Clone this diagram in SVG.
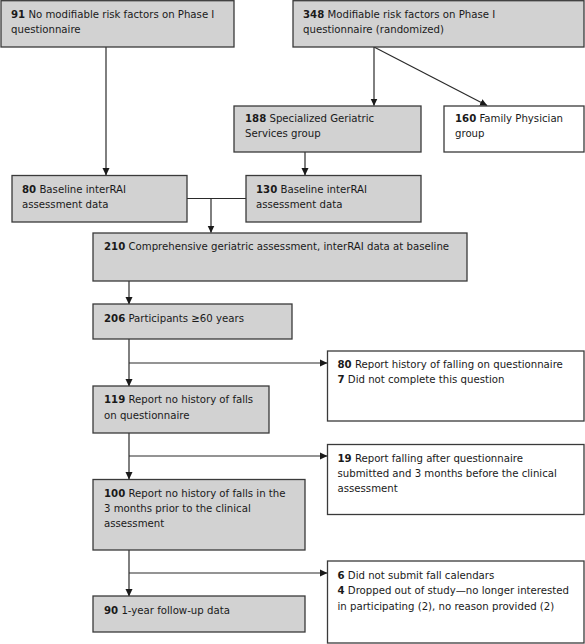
<svg xmlns="http://www.w3.org/2000/svg" width="585" height="644" viewBox="0 0 585 644">
<style>
.g rect{fill:#d2d2d2;stroke:#3a3a3a;stroke-width:1.3}
.w rect{fill:#ffffff;stroke:#3a3a3a;stroke-width:1.3}
text{font-family:"DejaVu Sans Condensed","Liberation Sans Narrow",sans-serif;font-size:11.3px;fill:#1a1a1a}
.b{font-weight:bold}
.c{stroke:#2a2a2a;stroke-width:1.2;fill:none}
</style>
<defs>
<marker id="ah" markerWidth="8" markerHeight="8" refX="7" refY="4" orient="auto" markerUnits="userSpaceOnUse">
<path d="M0,0.5 L7.5,4 L0,7.5 Z" fill="#1a1a1a"/>
</marker>
</defs>
<rect width="585" height="644" fill="#ffffff"/>
<g id="connectors">
<path class="c" d="M106,47 V175" marker-end="url(#ah)"/>
<path class="c" d="M374,47 V105.5" marker-end="url(#ah)"/>
<path class="c" d="M374,47 L487,105.5" marker-end="url(#ah)"/>
<path class="c" d="M305,152 V175" marker-end="url(#ah)"/>
<path class="c" d="M187,198.5 H246"/>
<path class="c" d="M211,198.5 V232.5" marker-end="url(#ah)"/>
<path class="c" d="M129,281 V304" marker-end="url(#ah)"/>
<path class="c" d="M129,339 V386" marker-end="url(#ah)"/>
<path class="c" d="M129,363 H327" marker-end="url(#ah)"/>
<path class="c" d="M129,433 V479" marker-end="url(#ah)"/>
<path class="c" d="M129,456 H327" marker-end="url(#ah)"/>
<path class="c" d="M129,550 V596" marker-end="url(#ah)"/>
<path class="c" d="M129,573 H327" marker-end="url(#ah)"/>
</g>
<g id="n91" class="g"><rect x="1" y="0.7" width="233" height="46.3"/>
<text x="11" y="18"><tspan class="b">91</tspan> No modifiable risk factors on Phase I</text>
<text x="11" y="33">questionnaire</text></g>
<g id="n348" class="g"><rect x="293" y="0.7" width="291" height="46.3"/>
<text x="303" y="18"><tspan class="b">348</tspan> Modifiable risk factors on Phase I</text>
<text x="303" y="33">questionnaire (randomized)</text></g>
<g id="n188" class="g"><rect x="234" y="106" width="187" height="46"/>
<text x="245" y="122"><tspan class="b">188</tspan> Specialized Geriatric</text>
<text x="245" y="137">Services group</text></g>
<g id="n160" class="w"><rect x="444" y="106" width="140" height="46"/>
<text x="455" y="122"><tspan class="b">160</tspan> Family Physician</text>
<text x="455" y="137">group</text></g>
<g id="n80a" class="g"><rect x="12" y="175.5" width="175" height="46.5"/>
<text x="22" y="193"><tspan class="b">80</tspan> Baseline interRAI</text>
<text x="22" y="208">assessment data</text></g>
<g id="n130" class="g"><rect x="246" y="175.5" width="175" height="46.5"/>
<text x="256" y="193"><tspan class="b">130</tspan> Baseline interRAI</text>
<text x="256" y="208">assessment data</text></g>
<g id="n210" class="g"><rect x="93" y="233" width="374" height="48"/>
<text x="104" y="250"><tspan class="b">210</tspan> Comprehensive geriatric assessment, interRAI data at baseline</text></g>
<g id="n206" class="g"><rect x="93" y="304" width="199" height="35"/>
<text x="104" y="322"><tspan class="b">206</tspan> Participants ≥60 years</text></g>
<g id="n80b" class="w"><rect x="327.5" y="351" width="256.5" height="70"/>
<text x="337.5" y="368"><tspan class="b">80</tspan> Report history of falling on questionnaire</text>
<text x="337.5" y="383"><tspan class="b">7</tspan> Did not complete this question</text></g>
<g id="n119" class="g"><rect x="93" y="386" width="176" height="47"/>
<text x="104" y="403"><tspan class="b">119</tspan> Report no history of falls</text>
<text x="104" y="419">on questionnaire</text></g>
<g id="n19" class="w"><rect x="327.5" y="444.5" width="256.5" height="70"/>
<text x="337.5" y="462"><tspan class="b">19</tspan> Report falling after questionnaire</text>
<text x="337.5" y="477">submitted and 3 months before the clinical</text>
<text x="337.5" y="492">assessment</text></g>
<g id="n100" class="g"><rect x="93" y="479.5" width="212" height="70.5"/>
<text x="104" y="497"><tspan class="b">100</tspan> Report no history of falls in the</text>
<text x="104" y="512">3 months prior to the clinical</text>
<text x="104" y="527">assessment</text></g>
<g id="n6" class="w"><rect x="327.5" y="561" width="256.5" height="82"/>
<text x="337.5" y="579"><tspan class="b">6</tspan> Did not submit fall calendars</text>
<text x="337.5" y="594"><tspan class="b">4</tspan> Dropped out of study—no longer interested</text>
<text x="337.5" y="610">in participating (2), no reason provided (2)</text></g>
<g id="n90" class="g"><rect x="93" y="596" width="212" height="36"/>
<text x="104" y="614"><tspan class="b">90</tspan> 1-year follow-up data</text></g>
</svg>
